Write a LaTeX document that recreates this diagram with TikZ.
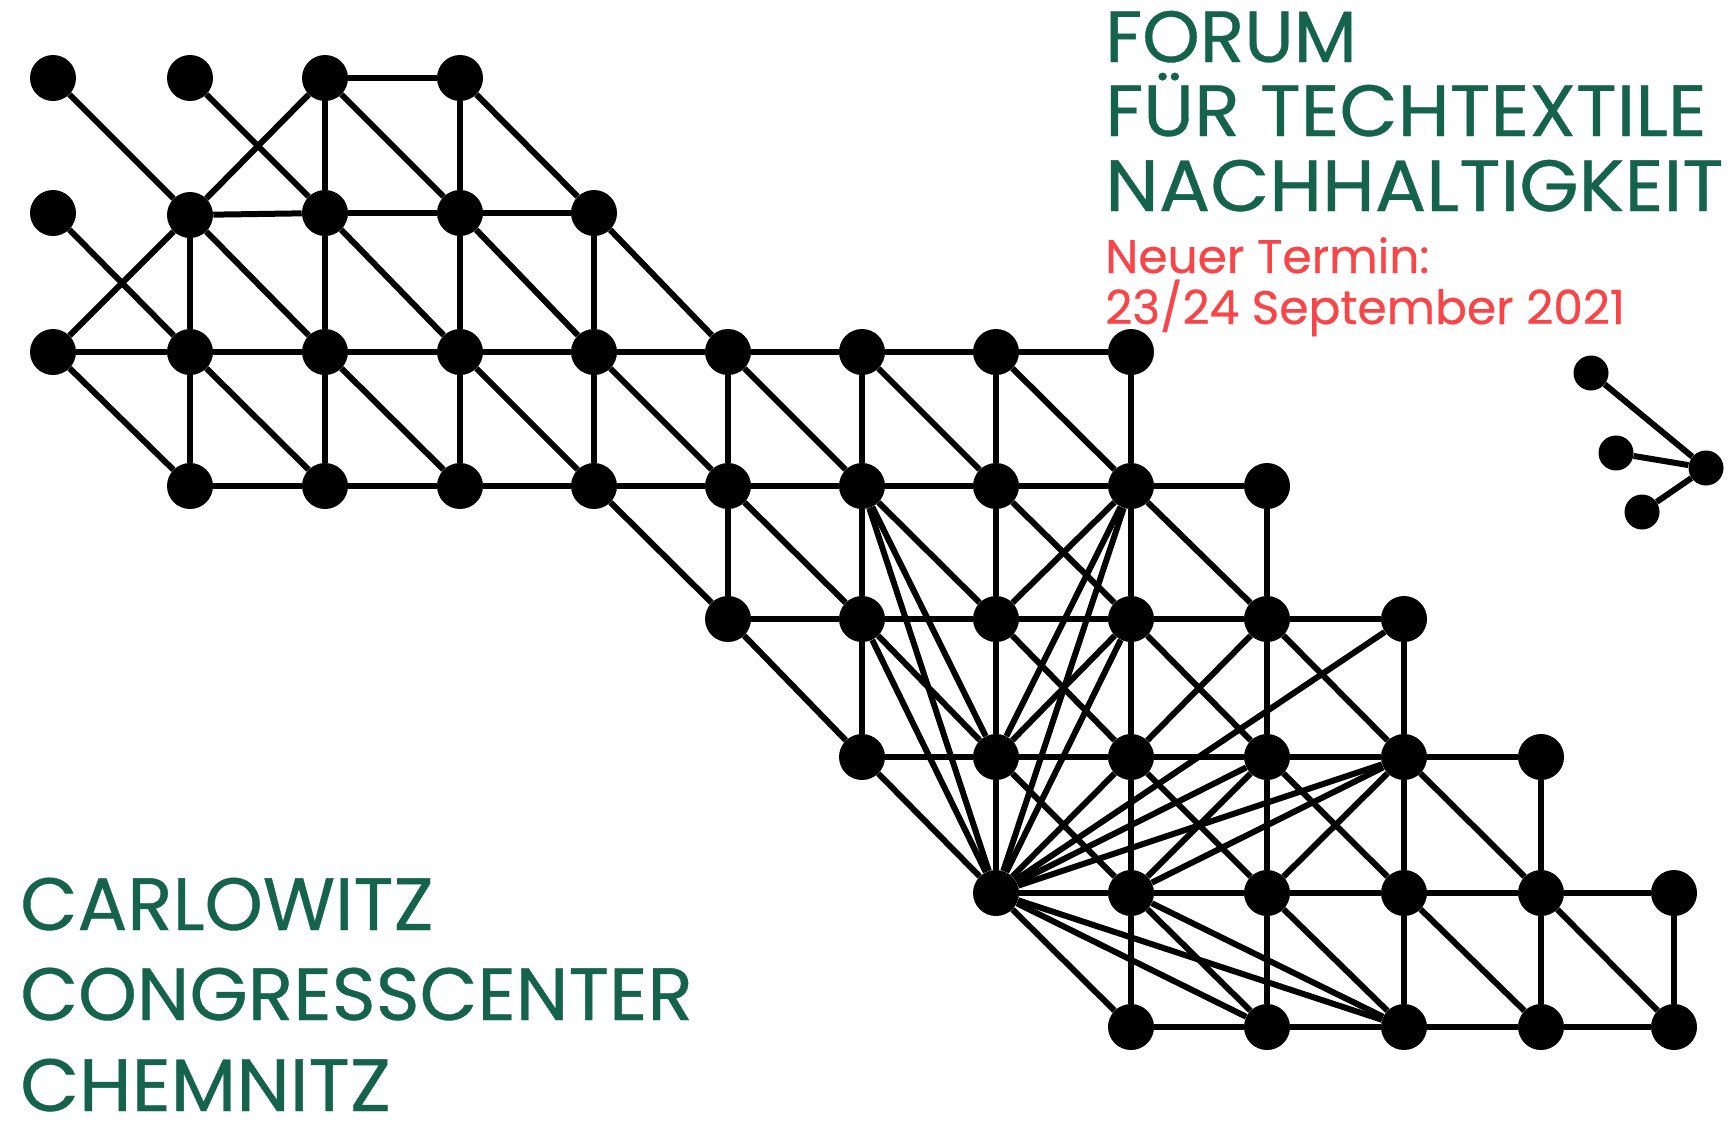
\documentclass[tikz,border=0pt]{standalone}
\usepackage{graphicx}
\usepackage{fontspec}
\setmainfont[FakeBold=0.5]{Poppins}
\definecolor{forumgreen}{HTML}{15634B}
\definecolor{terminred}{HTML}{F94547}
\newcommand{\wideX}[2]{\scalebox{#1}[1]{#2}}
\tikzset{
  knot/.style={circle,fill=black,inner sep=0pt,minimum size=46*0.75pt},
  knotS/.style={circle,fill=black,inner sep=0pt,minimum size=35*0.75pt},
  link/.style={line width=6*0.75pt},
  headline/.style={text=forumgreen,anchor=base west,inner sep=0pt,font=\fontsize{55.6}{60}\selectfont},
  headlineT/.style={headline,font=\fontsize{54.4}{60}\selectfont},
  dateline/.style={text=terminred,anchor=base west,inner sep=0pt,font=\fontsize{35.3}{40}\selectfont}
}
\begin{document}
\begin{tikzpicture}[x=0.75pt,y=-0.75pt]
\useasboundingbox (0,0) rectangle (1733,1125);
% grid positions
\def\colX{{53,190,325,460,594,728,862,996,1131,1267,1404,1541,1674}}
\def\rowY{{78,213,352,486,619,757,893,1027}}
% knots: row/first column/last column
\foreach \r/\a/\b in {0/0/3,1/0/4,2/0/8,3/1/9,4/5/10,5/6/11,6/7/12,7/8/12}{
  \foreach \c in {\a,...,\b}{
    \pgfmathsetmacro{\xx}{\colX[\c]}
    \pgfmathsetmacro{\yy}{\rowY[\r]+2*and(\c==1,\r==1)}
    \node[knot] (n\c r\r) at (\xx,\yy) {};
  }
}
% horizontal links
\foreach \r/\a/\b in {0/2/3,1/1/4,2/0/8,3/1/9,4/5/10,5/6/11,6/7/12,7/8/12}{
  \pgfmathtruncatemacro{\bb}{\b-1}
  \foreach \c in {\a,...,\bb}{
    \pgfmathtruncatemacro{\d}{\c+1}
    \draw[link] (n\c r\r)--(n\d r\r);
  }
}
% vertical links
\foreach \c/\a/\b in {1/1/3,2/0/3,3/0/3,4/1/3,5/2/4,6/2/5,7/2/6,8/2/7,9/3/7,10/4/7,11/5/7,12/6/7}{
  \pgfmathtruncatemacro{\bb}{\b-1}
  \foreach \r in {\a,...,\bb}{
    \pgfmathtruncatemacro{\s}{\r+1}
    \draw[link] (n\c r\r)--(n\c r\s);
  }
}
% falling links
\foreach \r/\a/\b in {0/0/3,1/0/4,2/0/7,3/4/8,4/5/9,5/6/10,6/7/11}{
  \foreach \c in {\a,...,\b}{
    \pgfmathtruncatemacro{\d}{\c+1}
    \pgfmathtruncatemacro{\s}{\r+1}
    \draw[link] (n\c r\r)--(n\d r\s);
  }
}
% rising links top left
\draw[link] (n0r2)--(n1r1);
\draw[link] (n1r1)--(n2r0);
% fan
\foreach \p/\q in {n6r3/n7r5,n6r3/n7r6,n6r4/n7r6,n8r3/n7r4,n8r3/n7r5,n8r3/n7r6,n8r4/n7r5,n8r4/n7r6,
  n8r5/n9r4,n8r5/n7r6,n9r5/n7r6,n10r5/n7r6,n10r4/n7r6,n8r6/n9r5,n8r6/n10r5,n9r6/n10r5,
  n7r6/n9r7,n7r6/n10r7,n8r6/n10r7}{
  \draw[link] (\p)--(\q);
}
% small graph
\node[knotS] (a) at (1591,373) {};
\node[knotS] (b) at (1616,453) {};
\node[knotS] (c) at (1642,512) {};
\node[knotS] (d) at (1706,468) {};
\draw[link] (a)--(d);
\draw[link] (b)--(d);
\draw[link] (c)--(d);
% texts
\node[headlineT] (t1) at (1105,62) {\wideX{1.01}{FORUM}};
\node[headlineT] (t2) at (1105,136) {\wideX{1.039}{FÜR TECHTEXTILE}};
\node[headlineT] (t3) at (1105,211) {\wideX{1.052}{NACHHALTIGKEIT}};
\node[dateline] (t4) at (1105,273) {Neuer Termin:};
\node[dateline] (t5) at (1105,324) {23/24 September 2021};
\node[headline] (t6) at (20,930) {CARLOWITZ};
\node[headline] (t7) at (20,1020) {\wideX{1.01}{CONGRESSCENTER}};
\node[headline] (t8) at (20,1111) {\wideX{1.027}{CHEMNITZ}};
\end{tikzpicture}
\end{document}
